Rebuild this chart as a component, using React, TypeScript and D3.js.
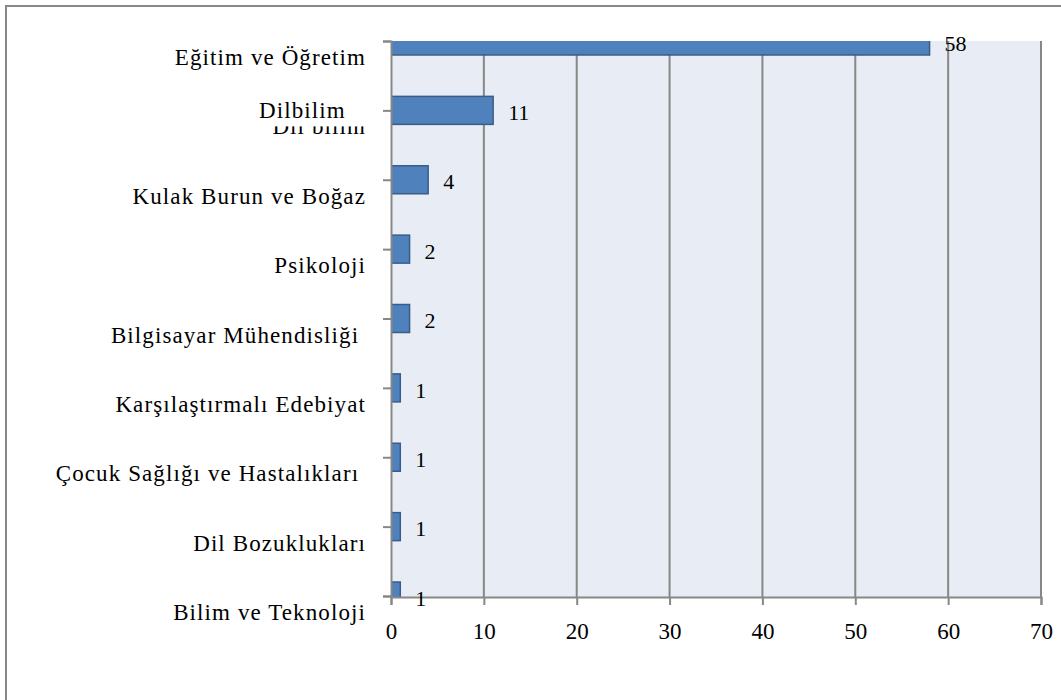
import * as d3 from 'd3';
import React, { useEffect, useRef } from 'react';

const categories = [
  'Eğitim ve Öğretim',
  'Dil bilim',
  'Kulak Burun ve Boğaz',
  'Psikoloji',
  'Bilgisayar Mühendisliği ',
  'Karşılaştırmalı Edebiyat',
  'Çocuk Sağlığı ve Hastalıkları ',
  'Dil Bozuklukları',
  'Bilim ve Teknoloji'
];
const counts = [58, 11, 4, 2, 2, 1, 1, 1, 1];
const xTicks = [0, 10, 20, 30, 40, 50, 60, 70];
const overlayLabel = 'Dilbilim';

const width = 1061;
const height = 700;
const font = '"Liberation Serif", serif';

const App = (): JSX.Element => {
  const ref = useRef<SVGSVGElement>(null);

  useEffect(() => {
    const svg = d3.select(ref.current);
    svg.selectAll('*').remove();

    const left = 391;
    const right = 1041;
    const top = 41;
    const bottom = 597;

    const x = d3.scaleLinear().domain([0, 70]).range([left, right]);
    const y = d3.scalePoint<string>().domain(categories).range([top, bottom - 1]);
    const barH = 28;

    // outer frame
    svg
      .append('rect')
      .attr('x', 6)
      .attr('y', 6)
      .attr('width', 1200)
      .attr('height', 900)
      .attr('fill', '#fff')
      .attr('stroke', '#888')
      .attr('stroke-width', 2);

    svg
      .append('defs')
      .append('clipPath')
      .attr('id', 'plot-clip')
      .append('rect')
      .attr('x', left)
      .attr('y', top)
      .attr('width', right - left)
      .attr('height', bottom - top);

    svg
      .append('rect')
      .attr('x', left)
      .attr('y', top)
      .attr('width', right - left)
      .attr('height', bottom - top)
      .attr('fill', '#e8ecf4');

    // vertical gridlines
    svg
      .append('g')
      .selectAll('line')
      .data(xTicks.slice(1))
      .enter()
      .append('line')
      .attr('x1', (d) => x(d))
      .attr('x2', (d) => x(d))
      .attr('y1', top)
      .attr('y2', bottom)
      .attr('stroke', '#878787')
      .attr('stroke-width', 2);

    // bars
    svg
      .append('g')
      .attr('clip-path', 'url(#plot-clip)')
      .selectAll('rect')
      .data(counts)
      .enter()
      .append('rect')
      .attr('x', x(0))
      .attr('y', (d, i) => (y(categories[i]) as number) - barH / 2)
      .attr('width', (d) => x(d) - x(0))
      .attr('height', barH)
      .attr('fill', '#4f81bd')
      .attr('stroke', '#385d8a')
      .attr('stroke-width', 1.5);

    // axes
    const yAxis = d3.axisLeft(y).tickSize(8).tickFormat(() => '');
    const gy = svg.append('g').attr('transform', `translate(${left},0)`).call(yAxis);
    gy.select('.domain').attr('stroke', '#878787').attr('stroke-width', 2);
    gy.selectAll('.tick line').attr('stroke', '#878787').attr('stroke-width', 2);

    const xAxis = d3.axisBottom(x).tickValues(xTicks).tickSize(8).tickFormat((d) => `${d}`);
    const gx = svg.append('g').attr('transform', `translate(0,${bottom})`).call(xAxis);
    gx.select('.domain').attr('stroke', '#878787').attr('stroke-width', 2);
    gx.selectAll('.tick line').attr('stroke', '#878787').attr('stroke-width', 2);
    gx.selectAll('.tick text')
      .attr('y', 26)
      .attr('font-family', font)
      .attr('font-size', 23)
      .attr('fill', '#000');

    // category labels (sit below their ticks)
    svg
      .append('g')
      .selectAll('text')
      .data(categories)
      .enter()
      .append('text')
      .attr('x', 366)
      .attr('y', (d) => (y(d) as number) + 16)
      .attr('dy', '0.35em')
      .attr('text-anchor', 'end')
      .attr('font-family', font)
      .attr('font-size', 23)
      .attr('letter-spacing', 1.1)
      .attr('fill', '#000')
      .style('white-space', 'pre')
      .text((d) => d);

    // text box pasted over the second label
    const oy = y(categories[1]) as number;
    svg
      .append('rect')
      .attr('x', 250)
      .attr('y', oy - 16)
      .attr('width', 118)
      .attr('height', 32)
      .attr('fill', '#fff');
    svg
      .append('text')
      .attr('x', 259)
      .attr('y', oy)
      .attr('dy', '0.35em')
      .attr('font-family', font)
      .attr('font-size', 23)
      .attr('letter-spacing', 1.1)
      .attr('fill', '#000')
      .text(overlayLabel);

    // value labels
    svg
      .append('g')
      .selectAll('text')
      .data(counts)
      .enter()
      .append('text')
      .attr('x', (d) => x(d) + 15)
      .attr('y', (d, i) => (y(categories[i]) as number) + 2)
      .attr('dy', '0.35em')
      .attr('font-family', font)
      .attr('font-size', 22)
      .attr('fill', '#000')
      .text((d) => d);
  }, []);

  return (
    <svg
      ref={ref}
      width={width}
      height={height}
      style={{ position: 'absolute', left: 0, top: 0, background: '#fff' }}
    />
  );
};

export default App;
